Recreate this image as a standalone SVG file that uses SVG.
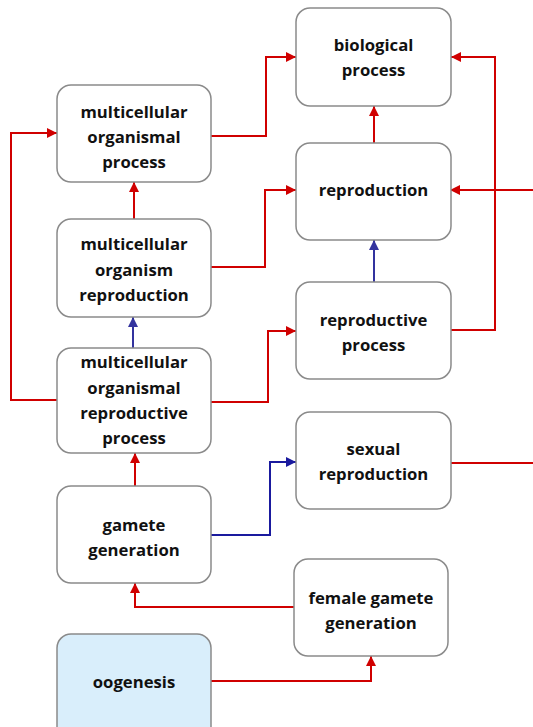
<svg xmlns="http://www.w3.org/2000/svg" width="533" height="727" viewBox="0 0 533 727">
<style>
.box{fill:#fff;stroke:#8a8a8a;stroke-width:1.5}
.hl{fill:#D9EEFB}
text{font-family:"Open Sans","Liberation Sans",sans-serif;font-weight:bold;font-size:16.7px;fill:#111;text-anchor:middle}
.r{fill:none;stroke:#D00000;stroke-width:2}
.b{fill:none;stroke:#33339E;stroke-width:2}
.b2{fill:none;stroke:#1A1A9E;stroke-width:2}
</style>
<defs>
<marker id="ar" viewBox="0 0 10 10" refX="10" refY="5" markerWidth="5" markerHeight="5" orient="auto" markerUnits="strokeWidth"><path d="M0,0L10,5L0,10z" fill="#D00000"/></marker>
<marker id="ab" viewBox="0 0 10 10" refX="10" refY="5" markerWidth="5" markerHeight="5" orient="auto" markerUnits="strokeWidth"><path d="M0,0L10,5L0,10z" fill="#33339E"/></marker>
<marker id="ab2" viewBox="0 0 10 10" refX="10" refY="5" markerWidth="5" markerHeight="5" orient="auto" markerUnits="strokeWidth"><path d="M0,0L10,5L0,10z" fill="#1A1A9E"/></marker>
</defs>
<g id="connectors">
<path class="r" d="M211,136H266V57H296" marker-end="url(#ar)"/>
<path class="r" d="M450,330H495V57H451" marker-end="url(#ar)"/>
<path class="r" d="M533,190H450" marker-end="url(#ar)"/>
<path class="r" d="M450,463H533"/>
<path class="r" d="M211,267H265V190H296" marker-end="url(#ar)"/>
<path class="r" d="M374,143V106" marker-end="url(#ar)"/>
<path class="b" d="M374,282V240" marker-end="url(#ab)"/>
<path class="r" d="M134,219V182" marker-end="url(#ar)"/>
<path class="b" d="M133,348V317" marker-end="url(#ab)"/>
<path class="r" d="M57,400H11V133H57" marker-end="url(#ar)"/>
<path class="r" d="M211,402H268V331H296" marker-end="url(#ar)"/>
<path class="r" d="M135,486V453" marker-end="url(#ar)"/>
<path class="b2" d="M211,535H270V462H296" marker-end="url(#ab2)"/>
<path class="r" d="M294,607H135V583" marker-end="url(#ar)"/>
<path class="r" d="M211,681H371V656" marker-end="url(#ar)"/>
</g>
<g id="biological_process"><rect class="box" x="296" y="8" width="155" height="98" rx="14"/><text x="373.5" y="51">biological</text><text x="373.5" y="76">process</text></g>
<g id="multicellular_organismal_process"><rect class="box" x="57" y="85" width="154" height="97" rx="14"/><text x="134" y="118">multicellular</text><text x="134" y="143">organismal</text><text x="134" y="168">process</text></g>
<g id="reproduction"><rect class="box" x="296" y="143" width="155" height="97" rx="14"/><text x="373.5" y="196">reproduction</text></g>
<g id="multicellular_organism_reproduction"><rect class="box" x="57" y="219" width="154" height="98" rx="14"/><text x="134" y="250">multicellular</text><text x="134" y="276">organism</text><text x="134" y="301">reproduction</text></g>
<g id="reproductive_process"><rect class="box" x="296" y="282" width="155" height="97" rx="14"/><text x="373.5" y="326">reproductive</text><text x="373.5" y="351">process</text></g>
<g id="multicellular_organismal_reproductive_process"><rect class="box" x="57" y="348" width="154" height="105" rx="14"/><text x="134" y="368">multicellular</text><text x="134" y="394">organismal</text><text x="134" y="419">reproductive</text><text x="134" y="444">process</text></g>
<g id="sexual_reproduction"><rect class="box" x="296" y="412" width="155" height="97" rx="14"/><text x="373.5" y="455">sexual</text><text x="373.5" y="480">reproduction</text></g>
<g id="gamete_generation"><rect class="box" x="57" y="486" width="154" height="97" rx="14"/><text x="134" y="531">gamete</text><text x="134" y="556">generation</text></g>
<g id="female_gamete_generation"><rect class="box" x="294" y="559" width="154" height="97" rx="14"/><text x="371" y="604">female gamete</text><text x="371" y="629">generation</text></g>
<g id="oogenesis"><rect class="box hl" x="57" y="634" width="154" height="110" rx="14"/><text x="134" y="688">oogenesis</text></g>
</svg>
